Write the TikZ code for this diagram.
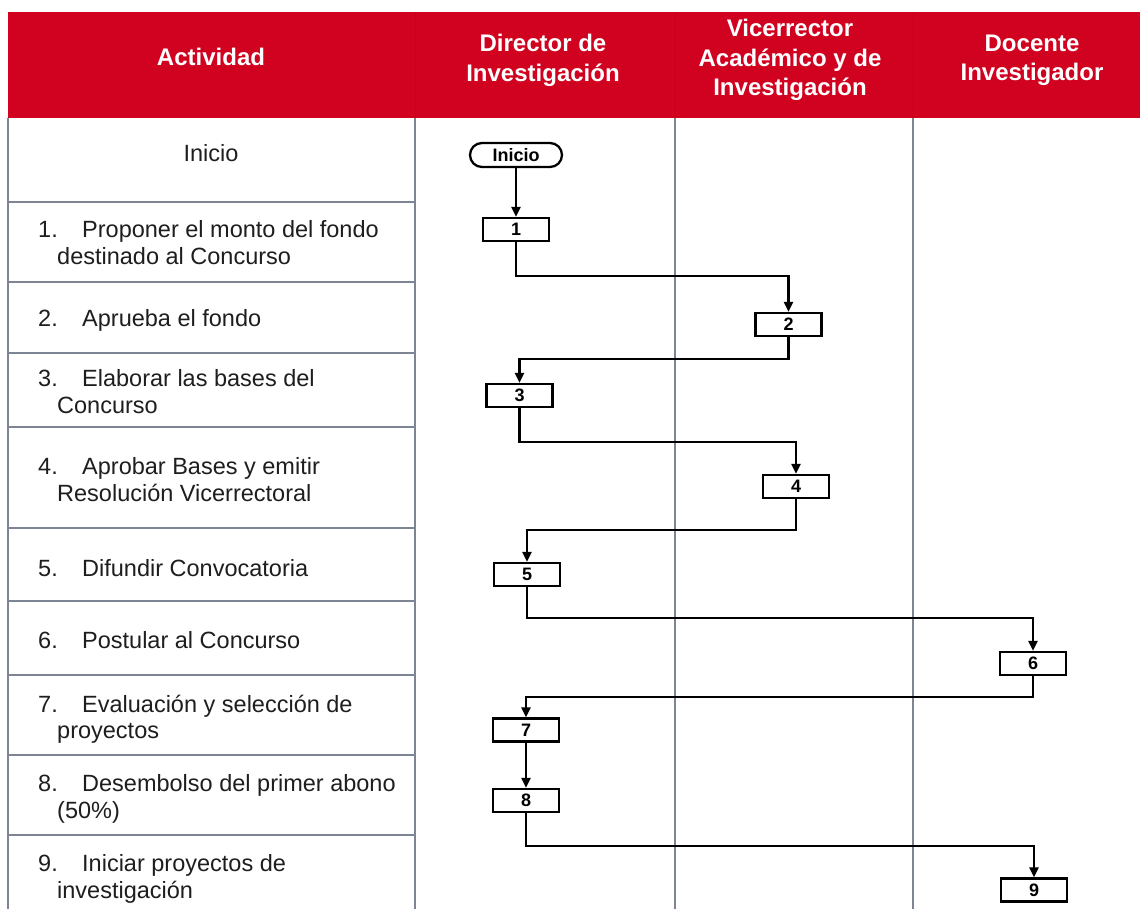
\documentclass[tikz,border=0pt]{standalone}
\usepackage{fontspec}
\setmainfont{Liberation Sans}
\usetikzlibrary{arrows.meta}
\definecolor{hdrRed}{HTML}{D0021F}
\definecolor{hdrRule}{HTML}{9A1426}
\definecolor{gridGray}{HTML}{7D8595}
\definecolor{txtDark}{HTML}{1E1E1E}

\begin{document}
\begin{tikzpicture}[x=1pt,y=-1pt,
  hdr/.style={text=white, font=\bfseries\fontsize{24}{29.5}\selectfont, align=center, anchor=north, inner sep=0},
  act/.style={text=txtDark, font=\fontsize{23.5}{26.5}\selectfont, align=left, anchor=north west, inner sep=0},
  stepbox/.style={draw, line width=2.3pt, fill=white, minimum width=66pt, minimum height=23pt, inner sep=0, font=\bfseries\fontsize{18}{18}\selectfont},
  flow/.style={line width=2.2pt, -{Triangle[length=10pt,width=9pt]}}]
\useasboundingbox (0,0) rectangle (1140,909);
\fill[white] (0,0) rectangle (1140,909);

% header
\fill[hdrRed] (8,12) rectangle (1140,118);
\draw[hdrRule, line width=1pt] (415,12) -- (415,118) (675,12) -- (675,118) (913,12) -- (913,118);
\node[hdr] (hAct) at (211,48.4) {Actividad};
\node[hdr] (hDir) at (543,34.4) {Director de\\Investigación};
\node[hdr] (hVic) at (790,19.4) {Vicerrector\\Académico y de\\Investigación};
\node[hdr] (hDoc) at (1032,34.4) {Docente\\Investigador};

% columns and rows
\draw[gridGray, line width=1.2pt] (8,118) -- (8,909) (415,118) -- (415,909) (675,118) -- (675,909) (913,118) -- (913,909);
\draw[gridGray, line width=1.2pt] (8,202) -- (415,202) (8,282) -- (415,282) (8,353) -- (415,353)
  (8,427) -- (415,427) (8,528) -- (415,528) (8,601) -- (415,601) (8,675) -- (415,675)
  (8,755) -- (415,755) (8,835) -- (415,835);

% activities
\node[act, anchor=north] (a0) at (211,144.5) {Inicio};
\node[act] (a1) at (38,220.5) {\makebox[44pt][l]{1.}Proponer el monto del fondo\\\hspace*{19pt}destinado al Concurso};
\node[act] (a2) at (38,309.5) {\makebox[44pt][l]{2.}Aprueba el fondo};
\node[act] (a3) at (38,369.5) {\makebox[44pt][l]{3.}Elaborar las bases del\\\hspace*{19pt}Concurso};
\node[act] (a4) at (38,457.5) {\makebox[44pt][l]{4.}Aprobar Bases y emitir\\\hspace*{19pt}Resolución Vicerrectoral};
\node[act] (a5) at (38,559.5) {\makebox[44pt][l]{5.}Difundir Convocatoria};
\node[act] (a6) at (38,631.5) {\makebox[44pt][l]{6.}Postular al Concurso};
\node[act] (a7) at (38,694.5) {\makebox[44pt][l]{7.}Evaluación y selección de\\\hspace*{19pt}proyectos};
\node[act] (a8) at (38,774.5) {\makebox[44pt][l]{8.}Desembolso del primer abono\\\hspace*{19pt}(50\%)};
\node[act] (a9) at (38,854.5) {\makebox[44pt][l]{9.}Iniciar proyectos de\\\hspace*{19pt}investigación};

% flow
\node[stepbox, rounded corners=12pt, minimum width=92pt, minimum height=24pt] (ini) at (516,155) {Inicio};
\node[stepbox] (b1) at (516,229.5) {1};
\node[stepbox] (b2) at (788.5,324.5) {2};
\node[stepbox] (b3) at (519.5,395.5) {3};
\node[stepbox] (b4) at (796,486.5) {4};
\node[stepbox] (b5) at (527,574.5) {5};
\node[stepbox] (b6) at (1033,663.5) {6};
\node[stepbox] (b7) at (526,730) {7};
\node[stepbox] (b8) at (526,800.5) {8};
\node[stepbox] (b9) at (1034,890) {9};

\draw[flow] (ini) -- (b1);
\draw[flow] (b1.south) -- ++(0,34) -| (b2.north);
\draw[flow] (b2.south) -- ++(0,22) -| (b3.north);
\draw[flow] (b3.south) -- ++(0,34) -| (b4.north);
\draw[flow] (b4.south) -- ++(0,31) -| (b5.north);
\draw[flow] (b5.south) -- ++(0,31) -| (b6.north);
\draw[flow] (b6.south) -- ++(0,21) -| (b7.north);
\draw[flow] (b7) -- (b8);
\draw[flow] (b8.south) -- ++(0,33) -| (b9.north);
\end{tikzpicture}
\end{document}
